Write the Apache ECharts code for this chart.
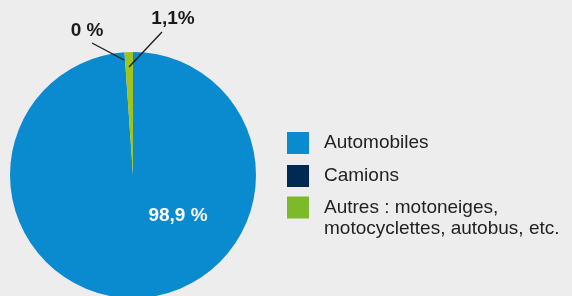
<!DOCTYPE html>
<html>
<head>
<meta charset="utf-8">
<script src="https://cdn.jsdelivr.net/npm/echarts@6/dist/echarts.min.js"></script>
<style>
  html, body { margin: 0; padding: 0; background: #ededed; }
  #chart { width: 572px; height: 296px; }
</style>
</head>
<body>
<div id="chart"></div>
<script>
// données
var categories = ['Automobiles', 'Camions', 'Autres : motoneiges,\nmotocyclettes, autobus, etc.'];
var values = [98.9, 0, 1.1];
var labels = ['98,9 %', '0 %', '1,1%'];
var sliceColors = ['#0a8bd0', '#002a54', '#a0c41c'];
var legendColors = ['#0a8bd0', '#002a54', '#7cb92b'];

var myChart = echarts.init(document.getElementById('chart'));

// positions des étiquettes (centre) et des traits de rappel
var labelPos = [
  { x: 178, y: 216 },
  { x: 87, y: 31, line: [[92, 43], [124, 60]] },
  { x: 173, y: 19, line: [[162, 32], [129, 67]] }
];

var legendText = {
  fontFamily: 'Liberation Sans, Arial, sans-serif',
  fontSize: 19,
  color: '#222',
  lineHeight: 21,
  padding: [0, 0, 0, 10]
};

function legendItem(i) {
  return { name: categories[i], itemStyle: { color: legendColors[i] } };
}

var pieCenter = [133, 175];
var pieRadius = [0, 123];

var option = {
  backgroundColor: '#ededed',
  animation: false,
  legend: [{
    orient: 'vertical',
    left: 287,
    top: 132,
    padding: 0,
    itemWidth: 22,
    itemHeight: 22,
    itemGap: 11,
    icon: 'rect',
    selectedMode: false,
    textStyle: legendText,
    data: [legendItem(0), legendItem(1)]
  }, {
    // élément sur deux lignes : la première ligne alignée sur le carré
    orient: 'vertical',
    left: 287,
    top: 176,
    padding: 0,
    itemWidth: 22,
    itemHeight: 22,
    icon: 'rect',
    selectedMode: false,
    textStyle: legendText,
    formatter: function (name) { return '\n' + name; },
    data: [legendItem(2)]
  }],
  series: [{
    // secteurs
    type: 'pie',
    center: pieCenter,
    radius: pieRadius,
    startAngle: 90,
    clockwise: true,
    minAngle: 0,
    label: { show: false },
    labelLine: { show: false },
    data: categories.map(function (c, i) {
      return { name: c, value: values[i], itemStyle: { color: sliceColors[i] } };
    }),
    emphasis: { disabled: true }
  }, {
    // étiquettes et traits par-dessus les secteurs
    type: 'pie',
    z: 5,
    silent: true,
    center: pieCenter,
    radius: pieRadius,
    startAngle: 90,
    clockwise: true,
    minAngle: 0,
    avoidLabelOverlap: false,
    itemStyle: { color: 'rgba(0,0,0,0)' },
    data: categories.map(function (c, i) {
      return { name: c, value: values[i] };
    }),
    label: {
      show: true,
      position: 'outside',
      formatter: function (p) { return labels[p.dataIndex]; },
      fontFamily: 'Liberation Sans, Arial, sans-serif',
      fontWeight: 'bold',
      fontSize: 19,
      color: '#1a1a1a'
    },
    labelLine: {
      show: true,
      showAbove: true,
      lineStyle: { color: '#1a1a1a', width: 1.3 }
    },
    labelLayout: function (p) {
      var pos = labelPos[p.dataIndex];
      var r = {
        x: pos.x,
        y: pos.y,
        align: 'center',
        verticalAlign: 'middle'
      };
      if (pos.line) r.labelLinePoints = pos.line.concat([pos.line[1]]);
      return r;
    },
    emphasis: { disabled: true }
  }]
};

// étiquette intérieure blanche pour Automobiles
option.series[1].data[0].label = { color: '#fff' };
option.series[1].data[0].labelLine = { show: false };

myChart.setOption(option);
</script>
</body>
</html>
